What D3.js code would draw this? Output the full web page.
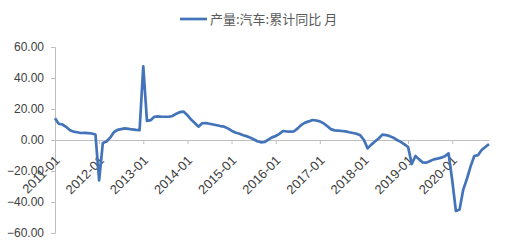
<!DOCTYPE html>
<html>
<head>
<meta charset="utf-8">
<script src="https://cdn.jsdelivr.net/npm/d3@7"></script>
<style>
  body { margin: 0; background: #fff; }
  svg text { font-family: "Liberation Sans", Arial, sans-serif; fill: #404040; }
  .legend text { font-family: "Noto Sans CJK SC", sans-serif; fill: #595959; }
</style>
</head>
<body>
<svg width="515" height="249" class="chart"></svg>
<script>
// 产量:汽车:累计同比 (%), monthly 2011-01 .. 2020-11
var startYear = 2011
var seriesName = "产量:汽车:累计同比 月"
var values = [
  14, 10.5, 10, 8.5, 6.5, 5.4, 5, 4.5, 4.6, 4.4, 4.2, 3.5,
  -26, -2, -1, 1.5, 5, 6.5, 7, 7.5, 7.2, 6.8, 6.5, 6.3,
  47.5, 12.3, 12.8, 15, 15.2, 15, 15, 15, 15.5, 17, 18, 18.3,
  16, 13.2, 11, 8.6, 10.8, 10.9, 10.5, 10, 9.5, 9, 8.6, 7.5,
  6, 4.8, 4.2, 3.2, 2.5, 1.6, 0.5, -0.8, -1.5, -1.3, 0.2, 1.7,
  2.6, 4, 5.8, 5.5, 5.4, 5.6, 7.5, 9.8, 11.2, 12, 12.9, 12.6,
  12, 10.8, 9, 7, 6.2, 6, 5.8, 5.6, 5, 4.5, 4, 3,
  0, -5.4, -3, -1, 1, 3.5, 3.2, 2.5, 1.5, 0, -1.2, -2.8,
  -4.5, -15.5, -10.3, -12.5, -14.5, -14.6, -13.5, -12.5, -12, -11.4, -10.5, -8.6,
  -26, -45.8, -44.8, -32, -25, -17, -10.3, -9.8, -6.5, -4.5, -2.7
]
var yTicks = [-60, -40, -20, 0, 20, 40, 60]

var data = values.map(function(v, i) {
  var y = startYear + Math.floor(i / 12), m = i % 12 + 1
  return { label: y + "-" + (m < 10 ? "0" + m : m), value: v, i: i }
})

var svg = d3.select(".chart"),
  margin = {top: 47, right: 26, bottom: 16, left: 55},
  width = 515 - margin.left - margin.right,
  height = 249 - margin.top - margin.bottom

var x = d3.scaleLinear().domain([0, values.length - 1]).range([0, width])
var y = d3.scaleLinear().domain([-60, 60]).range([height, 0])

var g = svg.append("g")
  .attr("transform", "translate(" + margin.left + "," + margin.top + ")")

// y axis
var yAxis = g.append("g")
  .call(d3.axisLeft(y).tickValues(yTicks).tickSize(4).tickPadding(7)
    .tickFormat(function(d) { return d3.format(".2f")(d) }))
yAxis.select(".domain").attr("stroke", "#bfbfbf")
yAxis.selectAll(".tick line").attr("stroke", "#bfbfbf")
yAxis.selectAll("text").style("font-size", "12px").attr("fill", "#404040")

// x axis at zero
var xTickIdx = data.filter(function(d) { return d.i % 12 === 0 }).map(function(d) { return d.i })
var xAxis = g.append("g")
  .attr("transform", "translate(0," + y(0) + ")")
  .call(d3.axisBottom(x).tickValues(xTickIdx).tickSize(4).tickSizeOuter(0)
    .tickFormat(function(i) { return data[i].label }))
xAxis.select(".domain").attr("stroke", "#bfbfbf")
xAxis.selectAll(".tick line").attr("stroke", "#bfbfbf")
xAxis.selectAll("text")
  .style("font-size", "13px")
  .attr("fill", "#262626")
  .attr("text-anchor", "end")
  .attr("dy", "0.35em")
  .attr("transform", "translate(2,18) rotate(-45)")
  .attr("y", 0)
  .attr("x", 0)

// line
var line = d3.line()
  .x(function(d) { return x(d.i) })
  .y(function(d) { return y(d.value) })

g.append("path")
  .datum(data)
  .attr("fill", "none")
  .attr("stroke", "#4373b9")
  .attr("stroke-width", 2.7)
  .attr("stroke-linejoin", "round")
  .attr("d", line)

// legend
var lg = svg.append("g").attr("class", "legend").attr("transform", "translate(180,19)")
lg.append("line").attr("x1", 0).attr("x2", 27).attr("y1", 0).attr("y2", 0)
  .attr("stroke", "#4373b9").attr("stroke-width", 2.7)
lg.append("text").attr("x", 30).attr("y", 0).attr("dy", "0.35em")
  .style("font-size", "13px").text(seriesName)
</script>
</body>
</html>
